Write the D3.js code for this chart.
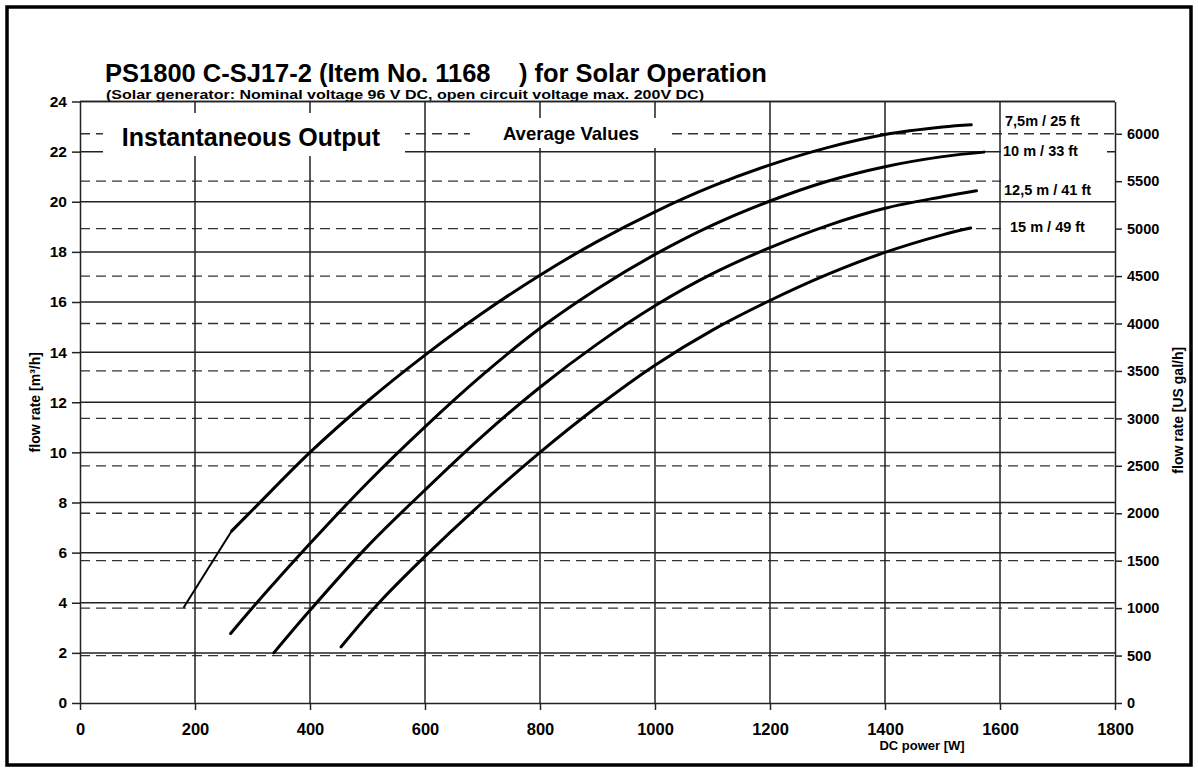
<!DOCTYPE html>
<html>
<head>
<meta charset="utf-8">
<script src="https://cdn.jsdelivr.net/npm/d3@7"></script>
<style>
  body { margin: 0; background: #fff; }
  svg text { font-family: Arial, "Liberation Sans", sans-serif; font-weight: bold; fill: #000; }
</style>
</head>
<body>
<svg id="chart" width="1198" height="772"></svg>
<script>
// pump curves: DC power [W] vs flow [m3/h]
const powerTicks = [0, 200, 400, 600, 800, 1000, 1200, 1400, 1600, 1800];
const flowTicks = [0, 2, 4, 6, 8, 10, 12, 14, 16, 18, 20, 22, 24];
const galTicks = [0, 500, 1000, 1500, 2000, 2500, 3000, 3500, 4000, 4500, 5000, 5500, 6000];
const headLabels = ['7,5m / 25 ft', '10 m / 33 ft', '12,5 m / 41 ft', '15 m / 49 ft'];

const head75Power = [180, 264, 300, 400, 500, 600, 700, 800, 900, 1000, 1100, 1200, 1300, 1400, 1500, 1550];
const head75Flow = [3.8, 6.87, 7.7, 10.0, 12.04, 13.88, 15.56, 17.07, 18.42, 19.6, 20.62, 21.47, 22.16, 22.68, 22.98, 23.07];
const head10Power = [262, 300, 400, 500, 600, 700, 800, 900, 1000, 1100, 1200, 1300, 1400, 1500, 1572];
const head10Flow = [2.77, 3.8, 6.36, 8.79, 11.02, 13.09, 14.95, 16.53, 17.9, 19.07, 20.03, 20.82, 21.4, 21.8, 21.98];
const head125Power = [337, 400, 500, 600, 700, 800, 900, 1000, 1100, 1200, 1300, 1400, 1500, 1559];
const head125Flow = [2.0, 3.7, 6.25, 8.5, 10.65, 12.6, 14.33, 15.85, 17.13, 18.17, 19.05, 19.74, 20.2, 20.44];
const head15Power = [454, 520, 600, 700, 800, 900, 1000, 1100, 1200, 1300, 1400, 1500, 1549];
const head15Flow = [2.24, 4.0, 5.85, 8.0, 10.0, 11.83, 13.48, 14.88, 16.06, 17.1, 17.98, 18.68, 18.95];

const M3_TO_GAL = 264.17;

const svg = d3.select('#chart');
const plotL = 80, plotR = 1115, plotT = 101.5, plotB = 703;

const xScale = d3.scaleLinear().domain([0, 1800]).range([plotL, plotR]);
const yScale = d3.scaleLinear().domain([0, 24]).range([plotB, plotT]);
const yGal = d3.scaleLinear().domain([0, 24 * M3_TO_GAL]).range([plotB, plotT]);

// outer frame
svg.append('rect')
  .attr('x', 7).attr('y', 7)
  .attr('width', 1184).attr('height', 758)
  .attr('fill', '#fff')
  .attr('stroke', '#000')
  .attr('stroke-width', 3.5);

// titles
svg.append('text')
  .attr('x', 105).attr('y', 82)
  .attr('font-size', '25.5px')
  .text('PS1800 C-SJ17-2 (Item No. 1168\u00a0\u00a0\u00a0\u00a0) for Solar Operation');
svg.append('text')
  .attr('x', 106).attr('y', 99)
  .attr('font-size', '13px')
  .attr('textLength', 598)
  .attr('lengthAdjust', 'spacingAndGlyphs')
  .text('(Solar generator: Nominal voltage 96 V DC, open circuit voltage max. 200V DC)');

const grid = svg.append('g');
// dashed US gal/h lines
grid.selectAll('line.gal')
  .data(galTicks.filter((d) => d > 0))
  .enter()
  .append('line')
  .attr('class', 'gal')
  .attr('x1', plotL).attr('x2', plotR)
  .attr('y1', (d) => yGal(d)).attr('y2', (d) => yGal(d))
  .attr('stroke', '#333')
  .attr('stroke-width', 1.3)
  .attr('stroke-dasharray', '10,6');
// solid m3/h lines
grid.selectAll('line.flow')
  .data(flowTicks.filter((d) => d > 0))
  .enter()
  .append('line')
  .attr('class', 'flow')
  .attr('x1', plotL).attr('x2', plotR)
  .attr('y1', (d) => yScale(d)).attr('y2', (d) => yScale(d))
  .attr('stroke', '#222')
  .attr('stroke-width', 1.5);
// vertical power lines
grid.selectAll('line.pow')
  .data(powerTicks.filter((d) => d > 0 && d < 1800))
  .enter()
  .append('line')
  .attr('class', 'pow')
  .attr('x1', (d) => xScale(d)).attr('x2', (d) => xScale(d))
  .attr('y1', plotT).attr('y2', plotB)
  .attr('stroke', '#222')
  .attr('stroke-width', 1.5);

// white label boxes that hide the grid
const boxes = [
  [103, 113, 302, 43],
  [470, 118, 200, 30],
  [1001, 138, 106, 34],
  [1001, 173, 114, 26],
  [1001, 216, 113, 24],
];
svg.append('g')
  .selectAll('rect')
  .data(boxes)
  .enter()
  .append('rect')
  .attr('x', (d) => d[0]).attr('y', (d) => d[1])
  .attr('width', (d) => d[2]).attr('height', (d) => d[3])
  .attr('fill', '#fff');

svg.append('text')
  .attr('x', 251).attr('y', 146)
  .attr('text-anchor', 'middle')
  .attr('font-size', '25px')
  .text('Instantaneous Output');
svg.append('text')
  .attr('x', 571).attr('y', 140)
  .attr('text-anchor', 'middle')
  .attr('font-size', '18.5px')
  .text('Average Values');

// axes
const fmt = d3.format('d');
const axisLeft = svg.append('g')
  .attr('transform', `translate(${plotL},0)`)
  .call(d3.axisLeft(yScale).tickValues(flowTicks).tickFormat(fmt)
    .tickSize(8).tickSizeOuter(0).tickPadding(5));
const axisRight = svg.append('g')
  .attr('transform', `translate(${plotR},0)`)
  .call(d3.axisRight(yGal).tickValues(galTicks).tickFormat(fmt)
    .tickSize(7).tickSizeOuter(0).tickPadding(5));
const axisBottom = svg.append('g')
  .attr('transform', `translate(0,${plotB})`)
  .call(d3.axisBottom(xScale).tickValues(powerTicks).tickFormat(fmt)
    .tickSize(7).tickSizeOuter(0).tickPadding(13));
[axisLeft, axisRight, axisBottom].forEach((ax) => {
  ax.selectAll('path, line').attr('stroke', '#222').attr('stroke-width', 1.5);
  ax.selectAll('text').attr('font-family', null).style('font-weight', 'bold');
});
axisLeft.selectAll('text').attr('font-size', '15.5px');
axisBottom.selectAll('text').attr('font-size', '16.5px');
axisRight.selectAll('text').attr('font-size', '14.5px');
// top border of plot
svg.append('line')
  .attr('x1', plotL).attr('x2', plotR)
  .attr('y1', plotT).attr('y2', plotT)
  .attr('stroke', '#222').attr('stroke-width', 1.5);

// axis titles
svg.append('text')
  .attr('transform', `translate(40,${(plotT + plotB) / 2}) rotate(-90)`)
  .attr('text-anchor', 'middle')
  .attr('font-size', '14px')
  .text('flow rate [m³/h]');
svg.append('text')
  .attr('transform', `translate(1183,${(plotT + plotB) / 2 + 8}) rotate(-90)`)
  .attr('text-anchor', 'middle')
  .attr('font-size', '14px')
  .text('flow rate [US gal/h]');
svg.append('text')
  .attr('x', 922).attr('y', 750)
  .attr('text-anchor', 'middle')
  .attr('font-size', '13px')
  .text('DC power [W]');

// curves
const curves = [
  [head75Power, head75Flow],
  [head10Power, head10Flow],
  [head125Power, head125Flow],
  [head15Power, head15Flow],
].map(([p, f]) => p.map((d, i) => [d, f[i]]));

const lineGen = d3.line()
  .x((d) => xScale(d[0]))
  .y((d) => yScale(d[1]))
  .curve(d3.curveCatmullRom.alpha(0.5));

const plot = svg.append('g');
// start-up segment of the lowest head is drawn thinner and straight
plot.append('path')
  .attr('d', d3.line().x((d) => xScale(d[0])).y((d) => yScale(d[1]))(curves[0].slice(0, 2)))
  .attr('fill', 'none')
  .attr('stroke', '#000')
  .attr('stroke-width', 2);
plot.selectAll('path.head')
  .data([curves[0].slice(1), curves[1], curves[2], curves[3]])
  .enter()
  .append('path')
  .attr('class', 'head')
  .attr('d', lineGen)
  .attr('fill', 'none')
  .attr('stroke', '#000')
  .attr('stroke-width', 3)
  .attr('stroke-linecap', 'round');

// head labels
const labelPos = [[1005, 126], [1003, 156], [1004, 195], [1010, 232]];
svg.append('g')
  .selectAll('text')
  .data(headLabels)
  .enter()
  .append('text')
  .attr('x', (d, i) => labelPos[i][0])
  .attr('y', (d, i) => labelPos[i][1])
  .attr('font-size', '14.5px')
  .text((d) => d);
</script>
</body>
</html>
